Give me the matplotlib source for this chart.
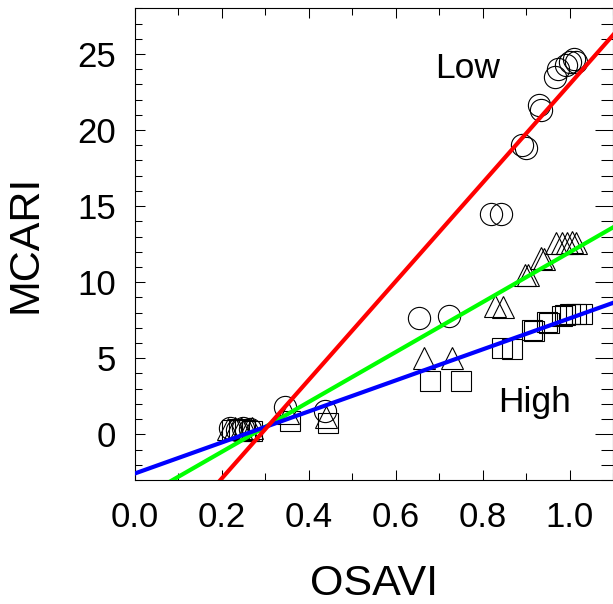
import matplotlib
matplotlib.use("Agg")
import matplotlib.pyplot as plt
import numpy as np

plt.rcParams['font.family'] = ['Liberation Sans', 'DejaVu Sans']

# OSAVI / MCARI pairs for the three groups
low_x = [0.220, 0.235, 0.250, 0.265, 0.346, 0.437, 0.655, 0.724, 0.820, 0.843,
         0.890, 0.900, 0.931, 0.935, 0.966, 0.973, 0.992, 1.000, 1.011, 1.015]
low_y = [0.40, 0.30, 0.45, 0.35, 1.80, 1.55, 7.65, 7.75, 14.45, 14.45,
         19.0, 18.8, 21.65, 21.3, 23.5, 24.0, 24.3, 24.5, 24.7, 24.5]

mid_x = [0.215, 0.230, 0.245, 0.260, 0.270, 0.352, 0.441, 0.665, 0.730, 0.828,
         0.848, 0.897, 0.905, 0.935, 0.941, 0.970, 0.982, 0.995, 1.005, 1.014]
mid_y = [0.35, 0.45, 0.40, 0.30, 0.40, 1.40, 1.15, 5.0, 5.0, 8.42,
         8.40, 10.5, 10.45, 11.6, 11.55, 12.55, 12.6, 12.6, 12.65, 12.6]

high_x = [0.225, 0.240, 0.255, 0.270, 0.357, 0.445, 0.679, 0.750, 0.845, 0.867,
          0.913, 0.918, 0.948, 0.952, 0.983, 0.990, 1.000, 1.016, 1.028]
high_y = [0.30, 0.35, 0.30, 0.25, 0.85, 0.75, 3.49, 3.49, 5.66, 5.60,
          6.85, 6.80, 7.39, 7.35, 7.78, 7.85, 7.90, 7.92, 7.92]

# fitted lines: slope, intercept
fit_low = (32.4, -9.4)
fit_mid = (16.4, -4.44)
fit_high = (10.2, -2.58)

fig = plt.figure(figsize=(6.13, 6.04), dpi=100)
ax = fig.add_axes([134.5 / 613, (604 - 480) / 604, (613 - 134.5) / 613, (480 - 8.3) / 604])

mk = dict(linestyle='none', markerfacecolor='none', markeredgecolor='black',
          markeredgewidth=0.8, zorder=2)
ax.plot(low_x, low_y, marker='o', markersize=16, **mk)
ax.plot(mid_x, mid_y, marker='^', markersize=15.5, **mk)
ax.plot(high_x, high_y, marker='s', markersize=14, **mk)

xx = np.array([-0.1, 1.2])
ax.plot(xx, fit_mid[0] * xx + fit_mid[1], color='#00ff00', lw=3, zorder=3)
ax.plot(xx, fit_high[0] * xx + fit_high[1], color='#0000ff', lw=3, zorder=4)
ax.plot(xx, fit_low[0] * xx + fit_low[1], color='#ff0000', lw=3, zorder=5)

ax.text(0.69, 23.4, 'Low', fontsize=25.5, ha='left', va='baseline')
ax.text(0.835, 1.47, 'High', fontsize=25.5, ha='left', va='baseline')

ax.set_xlim(0, 1.1)
ax.set_ylim(-3, 28)
ax.set_xticks(np.arange(0, 1.01, 0.2))
ax.set_xticks(np.arange(0, 1.11, 0.1), minor=True)
ax.set_yticks(np.arange(0, 26, 5))
ax.set_yticks(np.arange(-3, 29, 1), minor=True)
ax.xaxis.set_major_formatter(matplotlib.ticker.FormatStrFormatter('%.1f'))

ax.tick_params(which='both', direction='in', top=True, right=True,
               width=0.75, labelsize=25)
ax.tick_params(which='major', length=7)
ax.tick_params(which='minor', length=5)
ax.tick_params(axis='x', pad=15)
ax.tick_params(axis='y', pad=13)

# longer ticks on the right side
for t in ax.yaxis.get_major_ticks():
    t.tick2line.set_markersize(13)
for t in ax.yaxis.get_minor_ticks():
    t.tick2line.set_markersize(9)

for s in ax.spines.values():
    s.set_linewidth(0.8)

ax.set_xlabel('OSAVI', fontsize=31)
ax.set_ylabel('MCARI', fontsize=31)
ax.xaxis.set_label_coords(0.5, -0.178)
ax.yaxis.set_label_coords(-0.185, 0.5)

fig.savefig('out.png', dpi=100)
